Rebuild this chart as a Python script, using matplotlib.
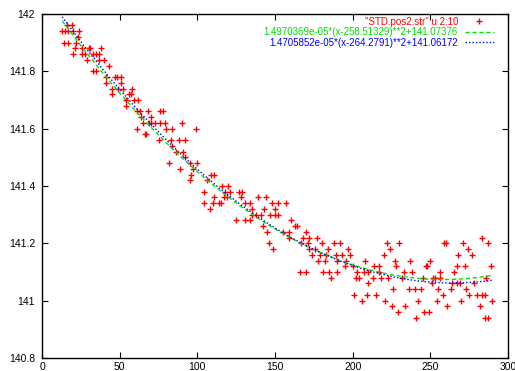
#Scatter of a data column with two quadratic fits, gnuplot look
import matplotlib.pyplot as plt
import numpy as np

plt.rcParams['font.family'] = ['Liberation Sans', 'DejaVu Sans']

#Points, grouped by y level
levels = [141.96, 141.94, 141.92, 141.90, 141.88, 141.86, 141.84, 141.82, 141.80,
          141.78, 141.76, 141.74, 141.72, 141.70, 141.68, 141.66, 141.64, 141.62,
          141.60, 141.58, 141.56, 141.54, 141.52, 141.50, 141.48, 141.46, 141.44,
          141.42, 141.40, 141.38, 141.36, 141.34, 141.32, 141.30, 141.28, 141.26,
          141.24, 141.22, 141.20, 141.18, 141.16, 141.14, 141.12, 141.10, 141.08,
          141.06, 141.04, 141.02, 141.00, 140.98, 140.96, 140.94]
xs_at_level = [
    [16, 19],
    [13, 15, 17, 20, 24],
    [23],
    [14, 17, 22],
    [21, 26, 30, 31, 38],
    [20, 26, 28, 33, 35, 37],
    [29, 37, 40],
    [43],
    [33, 35],
    [41, 47, 48, 51],
    [41, 51],
    [45, 49, 52, 58],
    [45, 56, 57],
    [54, 59, 62],
    [54],
    [61, 63, 68, 76, 78],
    [64, 70],
    [65, 69, 70, 73, 76, 79, 90],
    [61, 80, 84, 99],
    [66, 67],
    [75, 83, 88, 92],
    [84],
    [86, 91],
    [92],
    [82, 95, 100],
    [89, 97],
    [96, 109, 111],
    [95, 106],
    [116, 120],
    [104, 118, 121, 127, 129],
    [111, 117, 119, 128, 139, 144],
    [104, 110, 114, 115, 131, 134, 148, 152, 157],
    [108, 135, 143, 150],
    [135, 138, 141, 147, 150, 152],
    [125, 131, 134, 160],
    [142, 163, 164],
    [145, 155, 159, 170],
    [159, 168, 172, 177, 283],
    [146, 167, 171, 180, 188, 192, 222, 230, 259, 260, 271, 287],
    [149, 172, 176, 184, 197, 224, 274],
    [174, 179, 183, 189, 193, 198, 220, 268, 277],
    [178, 182, 190, 196, 208, 227, 237, 250],
    [195, 200, 214, 217, 228, 247, 248, 267, 272, 289],
    [166, 170, 181, 185, 190, 203, 207, 210, 217, 233, 238, 256, 265],
    [186, 202, 204, 213, 218, 223, 232, 245, 252, 253, 256, 286],
    [210, 251, 264, 267, 269, 278],
    [226, 236, 240, 244, 255, 263, 273],
    [201, 209, 215, 258, 275, 280, 283, 285],
    [206, 221, 242, 254, 270, 290],
    [225, 234, 261, 282],
    [229, 246, 249],
    [241, 285, 287],
]

px = []
py = []
for level, xs in zip(levels, xs_at_level):
    for x in xs:
        px.append(x)
        py.append(level)

#Fit parameters as printed in the key
fit1 = (1.4970369e-05, 258.51329, 141.07376)
fit2 = (1.4705852e-05, 264.2791, 141.06172)
fit_range = (13, 290)

fig = plt.figure(figsize=(5.15, 3.71), dpi=100)
ax = fig.add_axes([42/515, 13/371, 466/515, 344/371])

ax.plot(px, py, linestyle='none', marker='+', color='#ff0000',
        markersize=5, markeredgewidth=1.0, label='"STD.pos2.str" u 2:10')

xf = np.linspace(fit_range[0], fit_range[1], 300)
a, b, c = fit1
ax.plot(xf, a * (xf - b)**2 + c, color='#00e000', linestyle=(0, (3, 2)),
        linewidth=1.0, label='1.4970369e-05*(x-258.51329)**2+141.07376')
a, b, c = fit2
ax.plot(xf, a * (xf - b)**2 + c, color='#0000ff', linestyle=(0, (1, 1.5)),
        linewidth=1.0, label='1.4705852e-05*(x-264.2791)**2+141.06172')

ax.set_xlim(0, 300)
ax.set_ylim(140.8, 142)
ax.set_xticks([0, 50, 100, 150, 200, 250, 300])
ax.set_yticks([140.8, 141, 141.2, 141.4, 141.6, 141.8, 142])
ax.set_yticklabels(['140.8', '141', '141.2', '141.4', '141.6', '141.8', '142'])
ax.tick_params(direction='in', top=True, right=True, length=4, width=0.8,
               labelsize=7.5, colors='black')
ax.tick_params(axis='x', pad=3)
ax.tick_params(axis='y', pad=5)
for s in ax.spines.values():
    s.set_linewidth(1.0)

leg = ax.legend(loc='upper right', bbox_to_anchor=(0.970, 0.992),
                frameon=False, markerfirst=False, labelcolor='linecolor',
                fontsize=7, handlelength=3, handletextpad=0.7,
                labelspacing=0.05, borderaxespad=0, borderpad=0)

fig.savefig('out.png', dpi=100)
